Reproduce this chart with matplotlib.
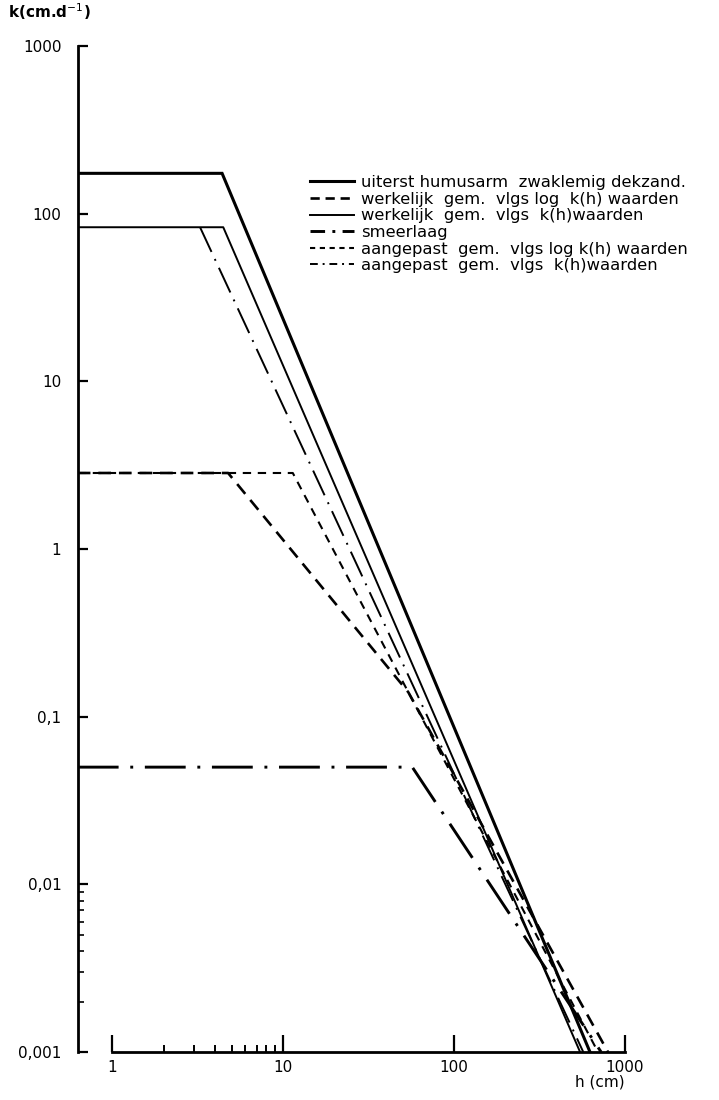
import numpy as np
import matplotlib
matplotlib.use("Agg")
import matplotlib.pyplot as plt
from matplotlib.lines import Line2D
from matplotlib.ticker import FixedLocator, NullFormatter

plt.rcParams['font.family'] = ['DejaVu Sans']

# k(h) curves: h in cm, k in cm/d
h_humus = [0.63, 4.4, 624]
k_humus = [174, 174, 0.001]

h_werk_log = [0.63, 4.77, 54, 795]
k_werk_log = [2.84, 2.84, 0.14, 0.001]

h_werk_kh = [0.63, 4.47, 546]
k_werk_kh = [83, 83, 0.001]

h_smeer = [0.63, 57, 725]
k_smeer = [0.05, 0.05, 0.001]

h_aang_log = [0.63, 11.4, 695]
k_aang_log = [2.84, 2.84, 0.001]

h_aang_kh = [3.27, 570]
k_aang_kh = [83, 0.001]

labels = ["uiterst humusarm  zwaklemig dekzand.",
          "werkelijk  gem.  vlgs log  k(h) waarden",
          "werkelijk  gem.  vlgs  k(h)waarden",
          "smeerlaag",
          "aangepast  gem.  vlgs log k(h) waarden",
          "aangepast  gem.  vlgs  k(h)waarden"]

yticks = [0.001, 0.01, 0.1, 1, 10, 100, 1000]
ytick_labels = ["0,001", "0,01", "0,1", "1", "10", "100", "1000"]
xticks = [1, 10, 100, 1000]
xtick_labels = ["1", "10", "100", "1000"]

W, H = 719, 1100
fig = plt.figure(figsize=(W / 100, H / 100), dpi=100)
ax = fig.add_axes([78 / W, 48 / H, (625 - 78) / W, (1052 - 46) / H])
ax.set_xscale('log')
ax.set_yscale('log')
ax.set_xlim(0.632, 1000)
ax.set_ylim(0.001, 1000)

ax.plot(h_humus, k_humus, color='k', lw=2.2, solid_joinstyle='miter')
ax.plot(h_werk_log, k_werk_log, color='k', lw=1.9, linestyle=(0, (4.8, 3.0)))
ax.plot(h_werk_kh, k_werk_kh, color='k', lw=1.4)
ax.plot(h_smeer, k_smeer, color='k', lw=2.1, linestyle=(0, (14, 4, 1, 4)))
ax.plot(h_aang_log, k_aang_log, color='k', lw=1.5, linestyle=(0, (4, 3.2)))
ax.plot(h_aang_kh, k_aang_kh, color='k', lw=1.4, linestyle=(0, (14, 4, 1, 4)))

# spines
for s in ['top', 'right']:
    ax.spines[s].set_visible(False)
ax.spines['left'].set_linewidth(2)
ax.spines['bottom'].set_linewidth(2)
ax.spines['bottom'].set_bounds(1, 1000)

ax.yaxis.set_major_locator(FixedLocator(yticks))
ax.set_yticklabels(ytick_labels)
ax.yaxis.set_minor_locator(FixedLocator([i * 0.001 for i in range(2, 10)]))
ax.yaxis.set_minor_formatter(NullFormatter())
ax.xaxis.set_major_locator(FixedLocator(xticks))
ax.set_xticklabels(xtick_labels)
ax.xaxis.set_minor_locator(FixedLocator(list(range(2, 10))))
ax.xaxis.set_minor_formatter(NullFormatter())

ax.tick_params(axis='y', which='major', direction='in', length=7, width=1.6,
               labelsize=11, pad=12)
ax.tick_params(axis='y', which='minor', direction='in', length=4, width=1.2)
ax.tick_params(axis='x', which='major', direction='in', length=12, width=1.6,
               labelsize=11, pad=6)
ax.tick_params(axis='x', which='minor', direction='in', length=5, width=1.4)

fig.text(8 / W, 1 - 12 / H, "k(cm.d$^{-1}$)", fontsize=11, fontweight='bold',
         va='center', ha='left')
fig.text(625 / W, 1 - 1082 / H, "h (cm)", fontsize=11, va='center', ha='right')

# legend keys drawn shorter, the way the figure shows them
handles = [Line2D([], [], color='k', lw=2.2),
           Line2D([], [], color='k', lw=1.9, linestyle=(0, (3.5, 2.2))),
           Line2D([], [], color='k', lw=1.4),
           Line2D([], [], color='k', lw=2.1, linestyle=(0, (5, 2.5, 1, 2.5))),
           Line2D([], [], color='k', lw=1.5, linestyle=(0, (2.5, 2.2))),
           Line2D([], [], color='k', lw=1.4, linestyle=(0, (4, 2.5, 1, 2.5)))]
leg = ax.legend(handles, labels, loc='upper left',
                bbox_to_anchor=(310 / W, 1 - 175 / H),
                bbox_transform=fig.transFigure, frameon=False, fontsize=11.8,
                handlelength=2.7, handletextpad=0.4, labelspacing=0.1,
                borderaxespad=0, borderpad=0)

fig.savefig("out.png", dpi=100)
